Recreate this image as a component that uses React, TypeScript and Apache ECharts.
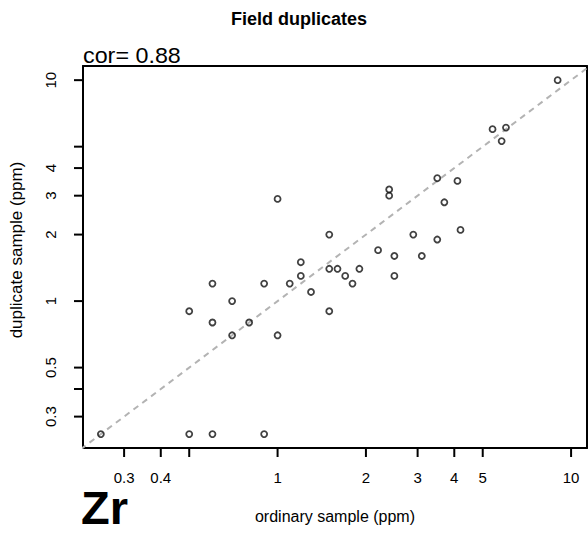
import React, { useEffect, useRef } from "react";
import * as echarts from "echarts";

// ordinary sample (ppm) and duplicate sample (ppm)
const ordinary = [
  0.25, 0.5, 0.6, 0.9, 0.5, 0.6, 0.6, 0.7, 0.7, 0.8, 0.9, 1.0, 1.0, 1.1, 1.2, 1.2,
  1.3, 1.5, 1.5, 1.5, 1.6, 1.7, 1.8, 1.9, 2.2, 2.4, 2.4, 2.5, 2.5, 2.9, 3.1, 3.5,
  3.5, 3.7, 4.1, 4.2, 5.4, 6.0, 5.8, 9.0,
];
const duplicate = [
  0.25, 0.25, 0.25, 0.25, 0.9, 1.2, 0.8, 1.0, 0.7, 0.8, 1.2, 0.7, 2.9, 1.2, 1.5, 1.3,
  1.1, 2.0, 1.4, 0.9, 1.4, 1.3, 1.2, 1.4, 1.7, 3.2, 3.0, 1.6, 1.3, 2.0, 1.6, 3.6,
  1.9, 2.8, 3.5, 2.1, 6.0, 6.1, 5.3, 10,
];
const oneToOne = [0.1, 20];

const xTicks = [0.3, 0.4, 0.5, 1, 2, 3, 4, 5, 10];
const xLabels = [0.3, 0.4, 1, 2, 3, 4, 5, 10];
const yTicks = [0.3, 0.4, 0.5, 1, 2, 3, 4, 5, 10];
const yLabels = [0.3, 0.5, 1, 2, 3, 4, 10];

const xRange = [0.2173, 11.33];
const yRange = [0.2163, 11.59];

const title = "Field duplicates";
const corText = "cor= 0.88";
const elementText = "Zr";
const xName = "ordinary sample (ppm)";
const yName = "duplicate sample (ppm)";

const FONT = "'Liberation Sans', Arial, Helvetica, sans-serif";
const TICK_LEN = 9;
const lg = (v: number) => Math.log10(v);
// log scale with its origin moved to the axis minimum
const X0 = lg(xRange[0]);
const Y0 = lg(yRange[0]);
const tx = (v: number) => lg(v) - X0;
const ty = (v: number) => lg(v) - Y0;
const fmt = (v: number) => String(parseFloat(Math.pow(10, v).toPrecision(2)));

const boxLine = { show: true, onZero: false, lineStyle: { color: "#000", width: 2 } };

export default function App() {
  const ref = useRef<HTMLDivElement>(null);
  useEffect(() => {
    if (!ref.current) return;
    const chart = echarts.init(ref.current, null, { renderer: "svg" });
    const pts = ordinary.map((x, i) => [tx(x), ty(duplicate[i])]);
    const frameAxis = {
      type: "value",
      min: 0,
      axisLine: boxLine,
      axisTick: { show: false },
      axisLabel: { show: false },
      splitLine: { show: false },
    };
    const texts = [
      {
        type: "text",
        x: 299,
        y: 19,
        style: {
          text: title,
          fontSize: 18,
          fontWeight: "bold",
          fontFamily: FONT,
          fill: "#000",
          align: "center",
          verticalAlign: "middle",
        },
      },
      {
        type: "text",
        x: 83,
        y: 55,
        scaleX: 1.06,
        style: {
          text: corText,
          fontSize: 22,
          fontFamily: FONT,
          fill: "#000",
          align: "left",
          verticalAlign: "middle",
        },
      },
      {
        type: "text",
        x: 81,
        y: 507,
        style: {
          text: elementText,
          fontSize: 47,
          lineHeight: 34,
          fontWeight: "bold",
          fontFamily: FONT,
          fill: "#000",
          align: "left",
          verticalAlign: "middle",
        },
      },
    ];
    chart.setOption({
      animation: false,
      backgroundColor: "#fff",
      textStyle: { fontFamily: FONT },
      grid: {
        left: 83,
        right: 1,
        top: 66,
        bottom: 85,
        containLabel: false,
      },
      xAxis: [
        {
          type: "value",
          position: "bottom",
          min: 0,
          max: tx(xRange[1]),
          axisLine: boxLine,
          splitLine: { show: false },
          name: xName,
          nameLocation: "middle",
          nameGap: 60,
          nameTextStyle: { fontSize: 16, color: "#000", fontFamily: FONT },
          axisTick: { show: false },
          axisLabel: {
            customValues: xLabels.map(tx),
            formatter: (v: number) => fmt(v + X0),
            fontSize: 15,
            color: "#000",
            margin: 22,
            fontFamily: FONT,
          },
        },
        { ...frameAxis, position: "top", max: tx(xRange[1]) },
      ],
      yAxis: [
        {
          type: "value",
          position: "left",
          min: 0,
          max: ty(yRange[1]),
          axisLine: boxLine,
          splitLine: { show: false },
          name: yName,
          nameLocation: "middle",
          nameGap: 58,
          nameTextStyle: {
            fontSize: 17,
            color: "#000",
            fontFamily: FONT,
            padding: [0, 0, 0, 14],
          },
          axisTick: { show: false },
          axisLabel: {
            customValues: yLabels.map(ty),
            formatter: (v: number) => fmt(v + Y0),
            fontSize: 15,
            color: "#000",
            margin: 25,
            rotate: 90,
            fontFamily: FONT,
          },
        },
        { ...frameAxis, position: "right", max: ty(yRange[1]) },
      ],
      series: [
        {
          type: "line",
          xAxisIndex: 0,
          yAxisIndex: 0,
          data: oneToOne.map((v) => [tx(v), ty(v)]),
          symbol: "none",
          clip: true,
          silent: true,
          lineStyle: { color: "#b3b3b3", width: 2, type: [6, 5] },
          z: 1,
        },
        {
          type: "scatter",
          xAxisIndex: 0,
          yAxisIndex: 0,
          data: pts,
          symbol: "circle",
          symbolSize: 6,
          itemStyle: {
            color: "rgba(255,255,255,0)",
            borderColor: "#111",
            borderWidth: 1.8,
          },
          z: 2,
        },
      ],
      graphic: texts,
    });

    // tick marks placed through the chart's own axis scales
    const finder = { xAxisIndex: 0, yAxisIndex: 0 };
    const tickEls: any[] = [];
    xTicks.forEach((t) => {
      const p = chart.convertToPixel(finder, [tx(t), 0]) as number[];
      if (p && isFinite(p[0])) {
        tickEls.push({
          type: "line",
          z: 100,
          shape: { x1: p[0], y1: p[1], x2: p[0], y2: p[1] + TICK_LEN },
          style: { stroke: "#000", lineWidth: 2 },
        });
      }
    });
    yTicks.forEach((t) => {
      const p = chart.convertToPixel(finder, [0, ty(t)]) as number[];
      if (p && isFinite(p[1])) {
        tickEls.push({
          type: "line",
          z: 100,
          shape: { x1: p[0], y1: p[1], x2: p[0] - TICK_LEN, y2: p[1] },
          style: { stroke: "#000", lineWidth: 2 },
        });
      }
    });
    chart.setOption({ graphic: [...texts, ...tickEls] });
    return () => chart.dispose();
  }, []);
  return (
    <div
      ref={ref}
      style={{ position: "absolute", left: 0, top: 0, width: 588, height: 533 }}
    />
  );
}
